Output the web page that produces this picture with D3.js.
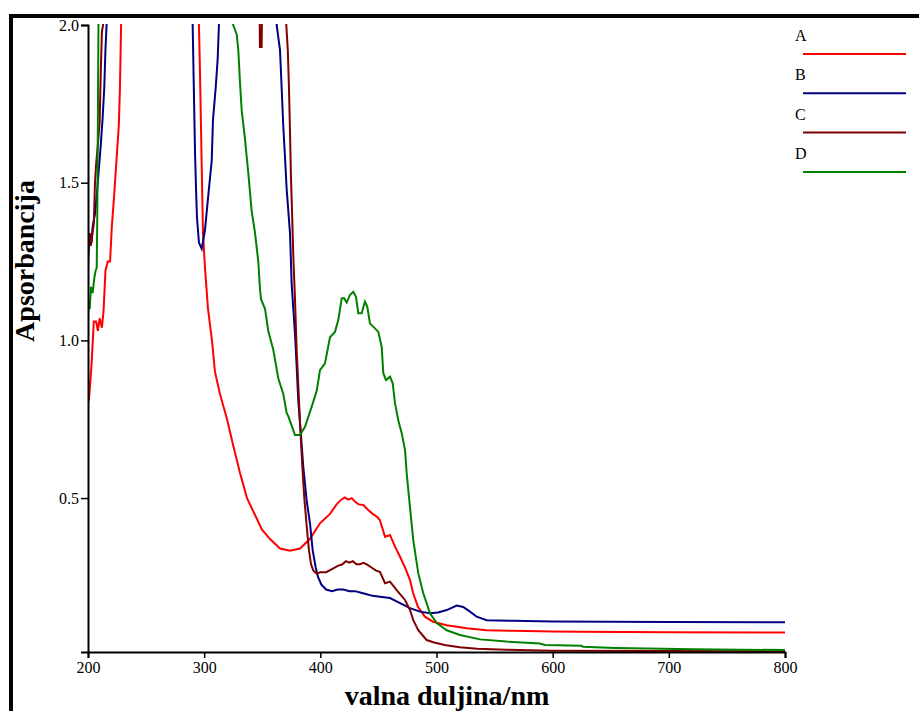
<!DOCTYPE html>
<html>
<head>
<meta charset="utf-8">
<script src="https://cdn.jsdelivr.net/npm/d3@7"></script>
<style>
html,body{margin:0;padding:0;background:#fff;overflow:hidden;}
svg{display:block;}
</style>
</head>
<body>
<svg id="chart" width="919" height="711"></svg>
<script>
// ---- data (wavelength nm, absorbance); values above 2.0 are off-scale (saturated) ----
const seriesNames = ["A", "B", "C", "D"];
const seriesColors = ["#ff0000", "#000080", "#800000", "#008000"];
const xTickValues = [200, 300, 400, 500, 600, 700, 800];
const yTickValues = [0.5, 1.0, 1.5, 2.0];
const xTitle = "valna duljina/nm";
const yTitle = "Apsorbancija";

const dataA = [[200,0.80],[201,0.82],[203,0.92],[205,1.06],[207,1.06],[208.5,1.03],[210,1.07],[212,1.04],[213.5,1.10],[215,1.22],[217,1.25],[219,1.25],[220.5,1.36],[222.5,1.46],[224.5,1.57],[226.5,1.68],[227.5,1.80],[228.5,2.0],[229,2.15],
 [294.5,2.15],[295.5,2.0],[296.4,1.85],[297.9,1.55],[299,1.34],[300.7,1.23],[303.3,1.10],[306.7,1.00],[309.3,0.90],[313.6,0.83],[319.7,0.75],[324.8,0.67],[330.8,0.58],[336.9,0.50],[342,0.46],[349.8,0.40],[356.7,0.37],[365.3,0.34],[373.9,0.333],[382.5,0.34],[391,0.37],[399.7,0.42],[408.3,0.45],[414,0.48],[418,0.495],[421,0.502],[424,0.495],[427,0.50],[430,0.488],[433,0.48],[437,0.478],[441,0.463],[445,0.45],[449,0.44],[451.3,0.43],[455.7,0.377],[460,0.383],[464.3,0.346],[468.6,0.314],[472.9,0.28],[477.2,0.24],[479.8,0.20],[484,0.155],[490,0.124],[497,0.108],[508.8,0.097],[526,0.087],[543,0.081],[565.8,0.079],[600,0.077],[623.5,0.076],[700,0.075],[800,0.074]];

const dataB = [[200,1.27],[201,1.30],[202,1.33],[203,1.31],[204,1.36],[206,1.40],[208,1.48],[209.5,1.55],[211,1.62],[212.5,1.70],[214,1.80],[215,1.92],[216,2.0],[217,2.15],
 [289.5,2.15],[290.1,2.0],[291.2,1.78],[292.1,1.60],[293,1.48],[293.8,1.39],[295.5,1.31],[297.9,1.29],[300.7,1.35],[303.3,1.45],[306.5,1.57],[307.6,1.70],[309.9,1.80],[311.6,1.89],[312.7,2.0],[313.5,2.15],
 [361.5,2.15],[362.4,2.0],[365.3,1.92],[366.7,1.80],[368.1,1.68],[369.6,1.58],[371,1.48],[373.9,1.34],[375.3,1.18],[378.2,1.02],[379.6,0.92],[381,0.81],[383.1,0.71],[385.3,0.60],[388.3,0.49],[391.1,0.42],[393.4,0.335],[396,0.28],[398,0.25],[401,0.225],[405,0.21],[410,0.205],[415,0.21],[420,0.21],[425,0.205],[430,0.205],[435,0.20],[440,0.195],[445,0.19],[451.3,0.187],[460,0.183],[468.6,0.167],[477.2,0.151],[485.8,0.14],[494.4,0.135],[501.3,0.137],[508.8,0.145],[517.4,0.159],[523,0.155],[528.8,0.14],[534.6,0.124],[543.2,0.113],[565.8,0.111],[600,0.109],[700,0.107],[800,0.106]];

const dataC = [[200,1.22],[200.5,1.30],[201.5,1.34],[202.5,1.30],[203.5,1.33],[205,1.37],[206,1.50],[207,1.56],[208.5,1.62],[210,1.69],[211,1.85],[212,1.98],[213,2.0],[214,2.15],
 [347.5,2.15],[348,1.93],[349.5,1.93],[350,2.15],
 [370,2.15],[370.7,2.0],[372,1.92],[373,1.80],[373.9,1.66],[374.7,1.52],[375.8,1.39],[376.7,1.27],[378.2,1.13],[379.6,0.97],[381,0.86],[382.5,0.74],[384.5,0.60],[386.2,0.50],[388.3,0.41],[390.2,0.335],[392,0.29],[394,0.27],[397,0.26],[400,0.265],[405,0.265],[410,0.275],[415,0.285],[419,0.29],[422,0.30],[425,0.295],[428,0.30],[431,0.29],[434,0.29],[437,0.295],[440,0.29],[444,0.28],[448,0.27],[451.3,0.266],[455.7,0.23],[460,0.235],[465.7,0.208],[472.9,0.177],[477.2,0.145],[480,0.113],[484.3,0.081],[491.5,0.05],[498,0.042],[507,0.034],[520,0.027],[535,0.022],[560,0.019],[600,0.016],[700,0.015],[800,0.014]];

const dataD = [[200,1.08],[200.7,1.12],[201.5,1.10],[202.5,1.17],[204,1.15],[205.5,1.20],[206.5,1.22],[207.5,1.23],[208,1.40],[208.5,1.70],[209,2.0],[209.5,2.15],
 [322,2.15],[325,2.0],[328,1.97],[329.4,1.92],[330.8,1.82],[332.3,1.73],[335.1,1.64],[338,1.53],[340.9,1.41],[343.8,1.34],[346.6,1.25],[348.1,1.16],[349,1.13],[352.4,1.10],[355.2,1.03],[359.5,0.97],[363.8,0.88],[368.1,0.83],[371,0.77],[372.4,0.76],[375.3,0.73],[378.2,0.70],[382.5,0.70],[386.8,0.726],[392.6,0.79],[396.9,0.84],[399.7,0.906],[404,0.927],[408.3,1.01],[412.6,1.027],[415.5,1.065],[418.4,1.133],[420.4,1.134],[422.7,1.12],[425.5,1.144],[428.4,1.154],[430.7,1.138],[432.7,1.086],[435.6,1.086],[438.4,1.123],[440.4,1.107],[442.7,1.054],[447,1.038],[449.9,1.027],[452.8,0.98],[454.2,0.896],[456.5,0.874],[460,0.885],[462.3,0.864],[464.3,0.80],[467.1,0.747],[470.1,0.705],[472.9,0.652],[474.3,0.58],[477.2,0.47],[480,0.367],[484.3,0.262],[488.6,0.198],[494.4,0.135],[500.2,0.104],[508.8,0.081],[520.2,0.066],[537.4,0.052],[560,0.045],[589,0.039],[593.4,0.034],[625,0.032],[626,0.0285],[653.6,0.025],[682,0.023],[720.8,0.021],[800,0.018]];

const allSeries = [dataA, dataB, dataC, dataD];

// ---- drawing ----
const svg = d3.select("#chart");
const serif = "'Liberation Serif','Times New Roman',serif";

// outer frame (thick border, right/bottom edges outside the view)
svg.append("rect").attr("x", 11).attr("y", 16).attr("width", 1200).attr("height", 1200)
  .attr("fill", "none").attr("stroke", "#000").attr("stroke-width", 4);

const x = d3.scaleLinear().domain([200, 800]).range([88, 785]);
const y = d3.scaleLinear().domain([0.012, 2]).range([652, 25]);

svg.append("defs").append("clipPath").attr("id", "plotclip")
  .append("rect").attr("x", x(200)).attr("y", y(2) - 1)
  .attr("width", x(800) - x(200) + 2).attr("height", y(0.012) - y(2) + 1);

const line = d3.line().x(d => x(d[0])).y(d => y(d[1]));

const plot = svg.append("g").attr("clip-path", "url(#plotclip)");
allSeries.forEach((s, i) => {
  plot.append("path").datum(s).attr("d", line)
    .attr("fill", "none").attr("stroke", seriesColors[i])
    .attr("stroke-width", 2).attr("stroke-linejoin", "miter");
});

// axes
const xAxis = d3.axisBottom(x).tickValues(xTickValues).tickFormat(d3.format("d")).tickSizeOuter(0).tickSize(6).tickPadding(4);
const gx = svg.append("g").attr("transform", `translate(0,${y(0.012)})`).call(xAxis);
const yAxis = d3.axisLeft(y).tickValues(yTickValues).tickFormat(d3.format(".1f")).tickSizeOuter(0).tickSize(7).tickPadding(2);
const gy = svg.append("g").attr("transform", `translate(${x(200)},0)`).call(yAxis);

[gx, gy].forEach(g => {
  g.select(".domain").attr("stroke", "#000").attr("stroke-width", 2);
  g.selectAll(".tick line").attr("stroke", "#000").attr("stroke-width", 1.5);
  g.selectAll(".tick text").attr("fill", "#000").style("font-family", serif).style("font-size", "16px");
});

// axis titles
svg.append("text").attr("x", 447).attr("y", 705).attr("text-anchor", "middle")
  .style("font-family", serif).style("font-size", "28px").style("font-weight", "bold")
  .text(xTitle);
svg.append("text").attr("transform", "translate(34,261) rotate(-90)").attr("text-anchor", "middle")
  .style("font-family", serif).style("font-size", "28px").style("font-weight", "bold")
  .text(yTitle);

// legend
const lg = svg.append("g");
seriesNames.forEach((n, i) => {
  const yy = 54 + i * 39.3;
  lg.append("text").attr("x", 795).attr("y", yy - 13).text(n)
    .style("font-family", serif).style("font-size", "16px").attr("fill", "#000");
  lg.append("line").attr("x1", 803).attr("x2", 906).attr("y1", yy).attr("y2", yy)
    .attr("stroke", seriesColors[i]).attr("stroke-width", 2);
});
</script>
</body>
</html>
